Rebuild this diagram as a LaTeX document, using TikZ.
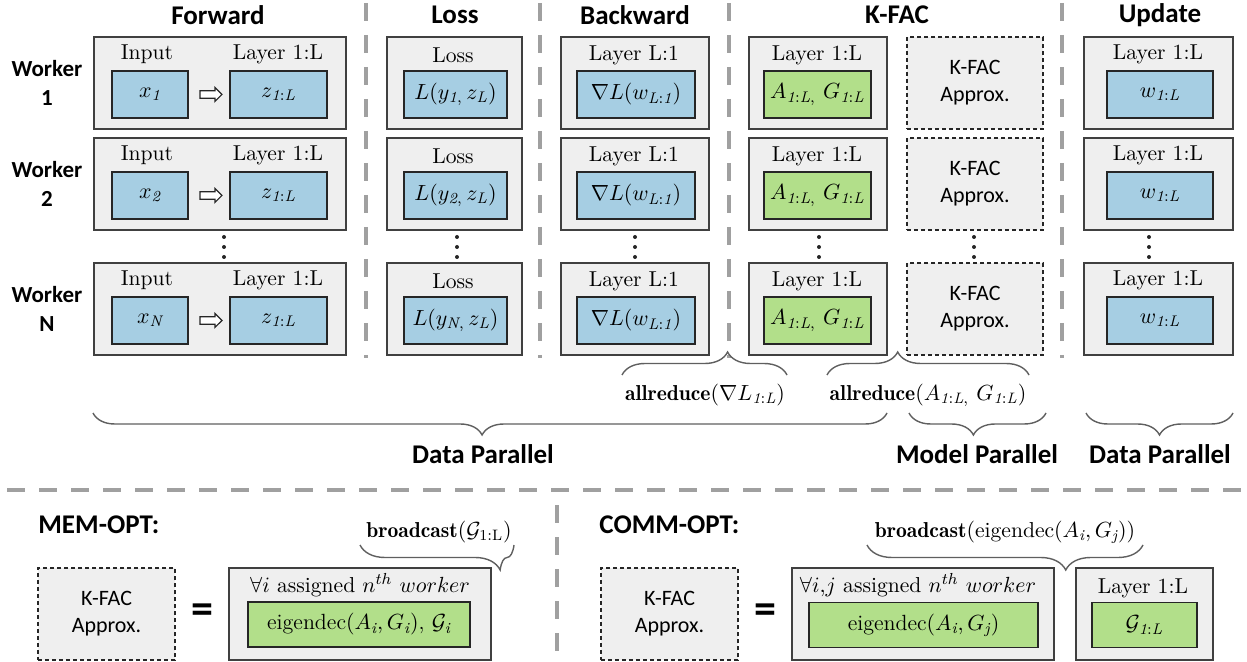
\documentclass[tikz,border=0pt]{standalone}
\usepackage{amsmath}
\usepackage{amssymb}
\usepackage{fontspec}
\setsansfont{Carlito}
\usepackage{tikz}
\usetikzlibrary{shapes.arrows}
\usetikzlibrary{decorations.pathreplacing}

\definecolor{cellgray}{RGB}{239,239,239}
\definecolor{paleblue}{RGB}{166,206,227}
\definecolor{palegreen}{RGB}{178,223,138}
\definecolor{sepgray}{RGB}{160,160,160}
\definecolor{bracegray}{RGB}{95,95,95}

\tikzset{
    cell/.style={draw=black!75, fill=cellgray, line width=0.6pt, minimum height=46pt, inner sep=0pt},
    approx/.style={cell, draw=black!85, dash pattern=on 2pt off 1.5pt, font=\sffamily\fontsize{11}{13.5}\selectfont, align=center},
    bluebox/.style={draw=black!85, fill=paleblue, line width=0.8pt, minimum height=23.25pt, inner sep=0pt, font=\fontsize{11}{13}\selectfont},
    greenbox/.style={bluebox, fill=palegreen},
    tag/.style={font=\fontsize{10.8}{13}\selectfont, inner sep=0pt},
    head/.style={font=\sffamily\bfseries\fontsize{13.5}{16}\selectfont, inner sep=0pt},
    worker/.style={font=\sffamily\bfseries\fontsize{11.5}{14.5}\selectfont, align=center, inner sep=0pt},
    sep/.style={draw=sepgray, line width=2pt, dash pattern=on 9pt off 7pt},
    curly/.style={draw=bracegray, line width=0.7pt, decorate, decoration={brace, amplitude=11.5pt}},
    hollow/.style={single arrow, draw=black!85, fill=white, line width=0.6pt, minimum height=11pt, inner xsep=0pt, inner ysep=1.6pt, single arrow head extend=1.6pt, single arrow head indent=0pt},
    vdot/.style={circle, fill=black!85, inner sep=0pt, minimum size=2pt},
}

\begin{document}
\begin{tikzpicture}[x=0.5pt, y=-0.5pt]
    \useasboundingbox (0,0) rectangle (1247,662);

    \node[head] (hfw) at (218,15) {Forward};
    \node[head] (hls) at (455,15) {Loss};
    \node[head] (hbw) at (635,15) {Backward};
    \node[head] (hkf) at (897,15) {K-FAC};
    \node[head] (hup) at (1160,15) {Update};

    \foreach \r/\t/\n in {1/37/1, 2/138/2, 3/263/N} {
        \node[worker] (wk\r) at (47,\t+46) {Worker\\\n};
        \node[cell, minimum width=126pt] (fw\r) at (220,\t+46) {};
        \node[tag] (fwin\r) at (147,\t+17) {Input};
        \node[tag] (fwly\r) at (278,\t+17) {Layer 1:L};
        \node[bluebox, minimum width=38pt] (x\r) at (150,\t+57.5) {$x_{\mathit{\n}}$};
        \node[bluebox, minimum width=48.5pt] (z\r) at (278.5,\t+57.5) {$z_{\mathit{1:L}}$};
        \path (x\r) -- node[hollow] (ar\r) {} (z\r);
        \node[cell, minimum width=67.5pt] (ls\r) at (454.5,\t+46) {};
        \node[tag] (lstag\r) at (453,\t+18) {Loss};
        \node[bluebox, minimum width=51.5pt] (lsv\r) at (455.5,\t+57.5) {$L(y_{\mathit{\n},}\,z_{\mathit{L}})$};
        \node[cell, minimum width=74pt] (bw\r) at (635,\t+46) {};
        \node[tag] (bwtag\r) at (634,\t+18) {Layer L:1};
        \node[bluebox, minimum width=59pt] (bwv\r) at (636,\t+57.5) {$\nabla L(w_{\mathit{L:1}})$};
        \node[cell, minimum width=69pt] (kf\r) at (818,\t+46) {};
        \node[tag] (kftag\r) at (817,\t+18) {Layer 1:L};
        \node[greenbox, minimum width=53.5pt] (kfv\r) at (817.5,\t+57.5) {$A_{\mathit{1:L},}\ G_{\mathit{1:L}}$};
        \node[approx, minimum width=68pt] (apx\r) at (975,\t+46) {K-FAC\\Approx.};
        \node[cell, minimum width=74.5pt] (up\r) at (1158.5,\t+46) {};
        \node[tag] (uptag\r) at (1158,\t+17) {Layer 1:L};
        \node[bluebox, minimum width=53pt] (upv\r) at (1160,\t+57.5) {$w_{\mathit{1:L}}$};
    }

    \foreach \dx in {224,457,635,819,974,1149}
        \foreach \dy in {237,247,257}
            \node[vdot] at (\dx,\dy) {};

    \foreach \sx in {366,540,729,1062}
        \draw[sep] (\sx,3) -- (\sx,358);

    \coordinate (g1a) at (622,375);
    \coordinate (g1b) at (787,375);
    \coordinate (g2a) at (827,375);
    \coordinate (g2b) at (1029,375);
    \draw[curly, decoration={aspect=0.64}] (g1a) -- (g1b);
    \draw[curly, decoration={aspect=0.35}] (g2a) -- (g2b);
    \node[tag] (red1) at (705,395) {$\mathbf{allreduce}(\nabla L_{\mathit{1:L}})$};
    \node[tag] (red2) at (928,395) {$\mathbf{allreduce}(A_{\mathit{1:L},}\ G_{\mathit{1:L}})$};

    \coordinate (dp1a) at (93,413);
    \coordinate (dp1b) at (887,413);
    \coordinate (mpa) at (909,413);
    \coordinate (mpb) at (1046,413);
    \coordinate (dp2a) at (1086,413);
    \coordinate (dp2b) at (1233,413);
    \draw[curly, decoration={mirror, aspect=0.49, amplitude=11pt}] (dp1a) -- (dp1b);
    \draw[curly, decoration={mirror, aspect=0.47, amplitude=11pt}] (mpa) -- (mpb);
    \draw[curly, decoration={mirror, aspect=0.5, amplitude=11pt}] (dp2a) -- (dp2b);
    \node[head] (dp1) at (483,454) {Data Parallel};
    \node[head] (mp) at (977,454) {Model Parallel};
    \node[head] (dp2) at (1160,454) {Data Parallel};

    \draw[sep] (7,490) -- (1247,490);
    \draw[sep] (557,505) -- (557,662);

    \node[head, anchor=west] (mem) at (38,525) {MEM-OPT:};
    \node[approx, minimum width=68.5pt] (mapx) at (106.5,614) {K-FAC\\Approx.};
    \node[font=\sffamily\bfseries\fontsize{22}{22}\selectfont] (meq) at (202,614) {=};
    \node[cell, minimum width=131pt] (mcell) at (360,614) {};
    \node[tag] (mtag) at (360,585) {$\forall i$ assigned $n^{th}$ $worker$};
    \node[greenbox, minimum width=111pt, minimum height=22.5pt] (mval) at (359,624.5) {eigendec$(A_{\mathit{i}},G_{\mathit{i}})$, $\mathcal{G}_{\mathit{i}}$};
    \coordinate (bc1a) at (360,545);
    \coordinate (bc1b) at (514,545);
    \draw[curly, decoration={mirror, aspect=0.91, amplitude=12.5pt}] (bc1a) -- (bc1b);
    \node[tag] (bc1) at (439,532) {$\mathbf{broadcast}(\mathcal{G}_{\mathrm{1:L}})$};

    \node[head, anchor=west] (comm) at (599,525) {COMM-OPT:};
    \node[approx, minimum width=68.5pt] (capx) at (669.5,614) {K-FAC\\Approx.};
    \node[font=\sffamily\bfseries\fontsize{22}{22}\selectfont] (ceq) at (765,614) {=};
    \node[cell, minimum width=131pt] (ccell) at (923,614) {};
    \node[tag] (ctag) at (918,585) {$\forall i{,}j$ assigned $n^{th}$ $worker$};
    \node[greenbox, minimum width=114.5pt, minimum height=22.5pt] (cval) at (923.5,625) {eigendec$(A_{\mathit{i}},G_{\mathit{j}})$};
    \node[cell, minimum width=68.5pt] (lcell) at (1144.5,614) {};
    \node[tag] (ltag) at (1143,588) {Layer 1:L};
    \node[greenbox, minimum width=52.5pt, minimum height=22.5pt] (lval) at (1144.5,625) {$\mathcal{G}_{\mathit{1:L}}$};
    \coordinate (bc2a) at (867,545);
    \coordinate (bc2b) at (1143,545);
    \draw[curly, decoration={mirror, aspect=0.72, amplitude=12.5pt}] (bc2a) -- (bc2b);
    \node[tag] (bc2) at (1005,532) {$\mathbf{broadcast}(\mathrm{eigendec}(A_{\mathit{i}},G_{\mathit{j}}))$};
\end{tikzpicture}
\end{document}
